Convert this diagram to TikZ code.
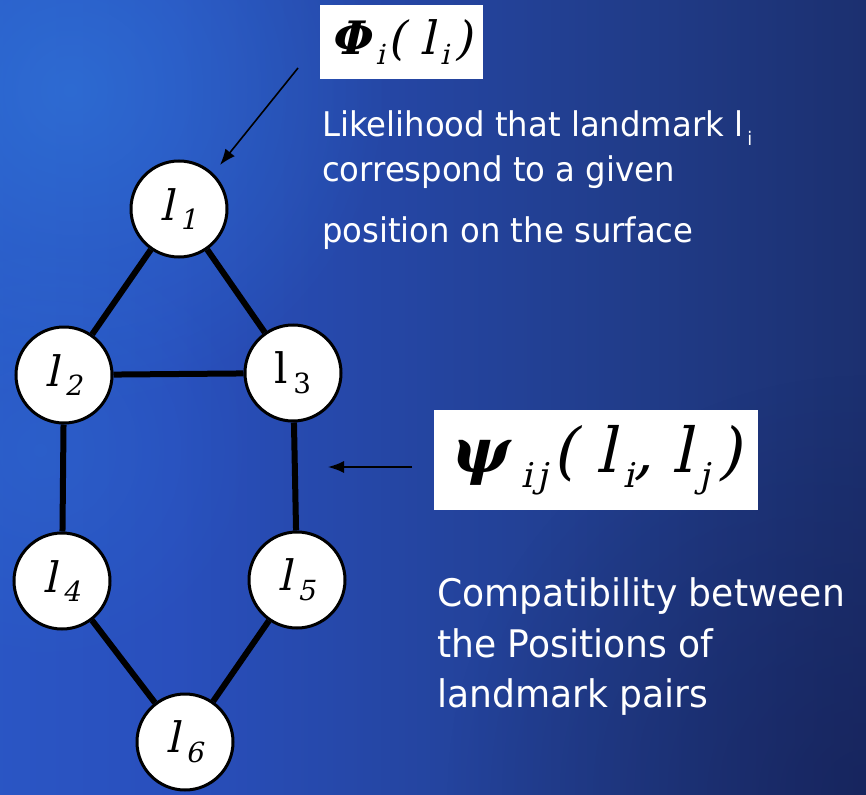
\documentclass[tikz,border=0pt]{standalone}
\usepackage{fontspec}
\setmainfont{DejaVu Sans}
\newfontfamily\slserif[FakeSlant=0.22]{DejaVu Serif}
\newfontfamily\upserif{DejaVu Serif}
\usetikzlibrary{arrows.meta,fadings}
\definecolor{glowc}{RGB}{50,135,230}
\definecolor{darkc}{RGB}{18,24,72}
\pgfdeclarehorizontalshading{bgh}{100bp}{
  rgb(0bp)=(0.18,0.40,0.84);
  rgb(35bp)=(0.16,0.31,0.74);
  rgb(60bp)=(0.13,0.24,0.55);
  rgb(80bp)=(0.10,0.17,0.40);
  rgb(100bp)=(0.08,0.11,0.31)}
\tikzfading[name=glowfade, inner color=transparent!0, outer color=transparent!100]
\newcommand\dsub[2][0.66]{\kern0.12em\raisebox{-0.45ex}{\scalebox{#1}{#2}}}
\tikzset{
  lm/.style={circle, draw=black, line width=3pt, fill=white, minimum size=96pt, inner sep=0pt,
    font=\slserif\fontsize{42}{44}\selectfont},
  edge/.style={line width=6pt, black},
  ptr/.style={line width=1.6pt, black, -{Latex[length=16pt,width=12pt]}},
  fbox/.style={fill=white, draw=none, inner sep=0pt},
  body/.style={text=white, anchor=base west, inner sep=0pt, xscale=0.95, transform shape},
}
\begin{document}
\begin{tikzpicture}[x=1pt,y=-1pt]
\useasboundingbox (0,0) rectangle (866,794);
% background
\shade[shading=bgh] (0,0) rectangle (866,794);
\fill[glowc, path fading=glowfade, opacity=0.45] (70,90) circle (320);
\fill[glowc, path fading=glowfade, opacity=0.2] (40,450) circle (220);
\fill[darkc, path fading=glowfade, opacity=0.45] (866,794) circle (420);
% landmark nodes
\node[lm] (n1) at (179,209) {l\dsub{1}};
\node[lm] (n2) at (64,375) {l\dsub{2}};
\node[lm, font=\upserif\fontsize{42}{44}\selectfont] (n3) at (293,373) {l\dsub{3}};
\node[lm] (n4) at (62,581) {l\dsub{4}};
\node[lm] (n5) at (297,580) {l\dsub{5}};
\node[lm] (n6) at (185,742) {l\dsub{6}};
\draw[edge] (n1) -- (n2);
\draw[edge] (n1) -- (n3);
\draw[edge] (n2) -- (n3);
\draw[edge] (n2) -- (n4);
\draw[edge] (n3) -- (n5);
\draw[edge] (n4) -- (n6);
\draw[edge] (n5) -- (n6);
% formula boxes
\node[fbox, minimum width=163pt, minimum height=74pt, font=\slserif\fontsize{46}{48}\selectfont] (phi) at (401.5,42)
  {{\bfseries Φ}\dsub[0.6]{i}\kern0.06em( l\dsub[0.6]{i}\kern0.12em)};
\node[fbox, minimum width=324pt, minimum height=100pt, font=\slserif\fontsize{62}{64}\selectfont] (psi) at (596,460)
  {{\bfseries ψ}\dsub[0.55]{\,i\,j}\kern0.06em( l\dsub[0.55]{i},\hspace{0.3em}l\dsub[0.55]{j}\kern0.12em)};
% pointers
\coordinate (a1s) at (298,68);
\coordinate (a1e) at (220,165);
\draw[ptr] (a1s) -- (a1e);
\coordinate (a2s) at (412,467);
\coordinate (a2e) at (328,467);
\draw[ptr] (a2s) -- (a2e);
% texts
\node[body, font=\fontsize{34}{40}\selectfont] (t1) at (322,137) {Likelihood that landmark l\dsub[0.55]{i}};
\node[body, font=\fontsize{34}{40}\selectfont] (t2) at (322,182) {correspond to a given};
\node[body, font=\fontsize{34}{40}\selectfont] (t3) at (322,242) {position on the surface};
\node[body, font=\fontsize{38}{44}\selectfont] (t4) at (437,606) {Compatibility between};
\node[body, font=\fontsize{38}{44}\selectfont] (t5) at (437,657) {the Positions of};
\node[body, font=\fontsize{38}{44}\selectfont] (t6) at (437,707) {landmark pairs};
\end{tikzpicture}
\end{document}
